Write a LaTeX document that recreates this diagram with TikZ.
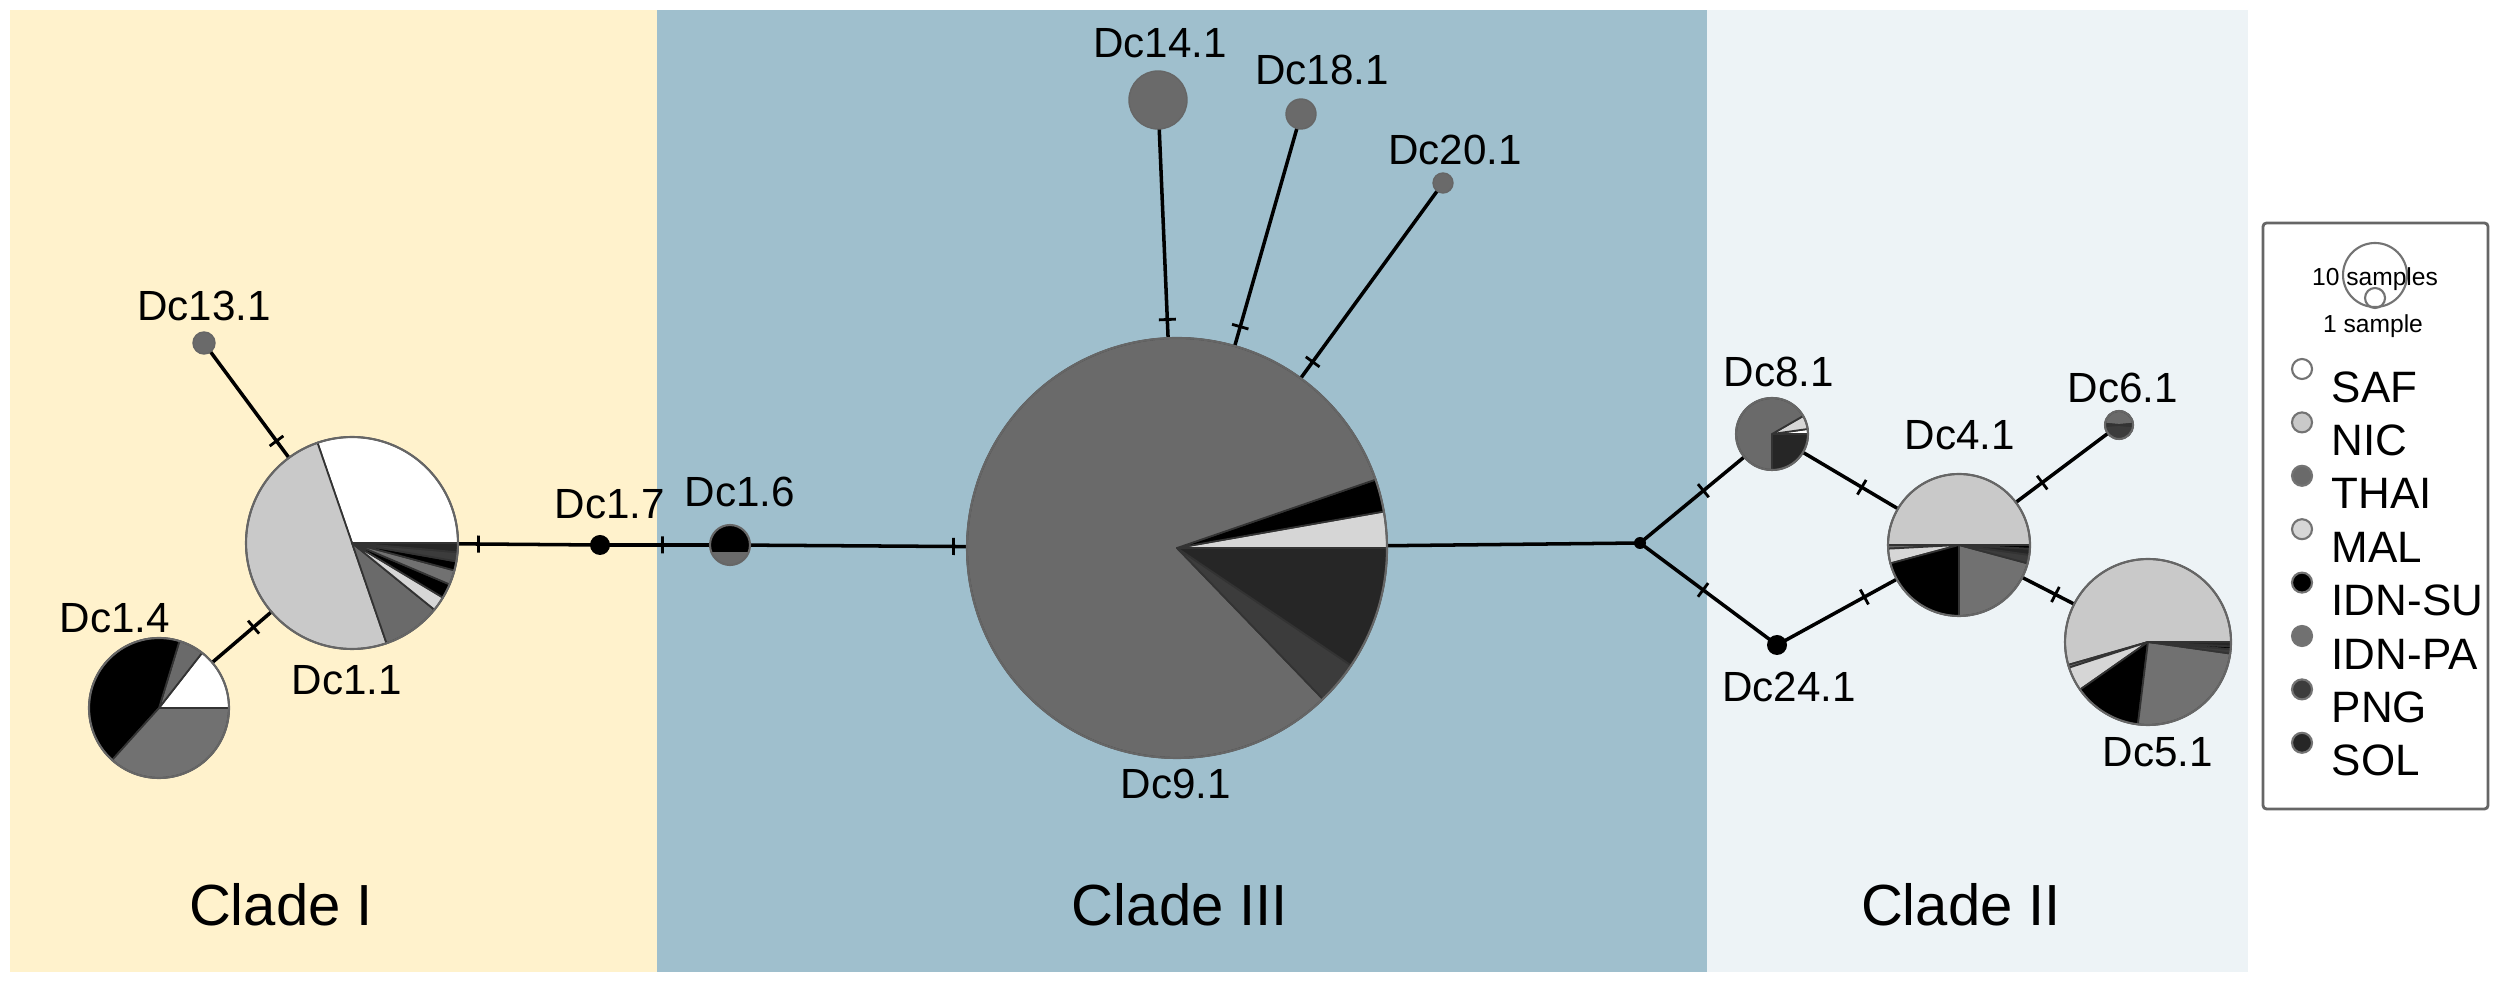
\documentclass[tikz,border=0pt]{standalone}
\usepackage{fontspec}
\setmainfont{Liberation Sans}
\definecolor{cyel}{HTML}{FFF2CC}
\definecolor{cblu}{HTML}{9FBFCD}
\definecolor{clig}{HTML}{EDF3F6}
\definecolor{NIC}{HTML}{C9C9C9}
\definecolor{MAL}{HTML}{D6D6D6}
\definecolor{THAI}{HTML}{6A6A6A}
\definecolor{IDNPA}{HTML}{717171}
\definecolor{PNG}{HTML}{3C3C3C}
\definecolor{SOL}{HTML}{262626}
\newcommand\myslice[5]{\filldraw[fill=#5,draw=black!80,line width=0.5pt,line join=round] (#1) -- ++(#2:#4) arc[start angle=#2,end angle=#3,radius=#4] -- cycle;}
\newcommand\myrim[2]{\draw[black!60,line width=0.6pt] (#1) circle[radius=#2];}
\begin{document}
\begin{tikzpicture}[x=0.01cm,y=0.01cm,
  lab/.style={font=\fontsize{12}{14}\selectfont,inner sep=0},
  clade/.style={font=\fontsize{16.5}{19}\selectfont,inner sep=0},
  leg/.style={font=\fontsize{12.5}{15}\selectfont,inner sep=0,anchor=west},
  conn/.style={line width=1pt},
  tk/.style={sloped,draw,inner sep=0,minimum width=0,minimum height=0.17cm,line width=0.8pt}]
\useasboundingbox (0,0) rectangle (2500,-983);
\fill[white] (0,0) rectangle (2500,-983);
\fill[cyel] (10,-10) rectangle (657,-972);
\fill[cblu] (657,-10) rectangle (1707,-972);
\fill[clig] (1707,-10) rectangle (2248,-972);
% centres
\coordinate (c131) at (204,-343);
\coordinate (c11) at (352,-543);
\coordinate (c14) at (159,-708);
\coordinate (c17) at (600,-545);
\coordinate (c16) at (730,-545);
\coordinate (c91) at (1177,-548);
\coordinate (c141) at (1158,-100);
\coordinate (c181) at (1301,-114);
\coordinate (c201) at (1443,-183);
\coordinate (cj) at (1640,-543);
\coordinate (c81) at (1772,-434);
\coordinate (c241) at (1777,-645);
\coordinate (c41) at (1959,-545);
\coordinate (c61) at (2119,-425);
\coordinate (c51) at (2148,-642);
% connectors
\draw[conn] (c131) -- node[tk,pos=0.49]{} (c11);
\draw[conn] (c14) -- node[tk,pos=0.49]{} (c11);
\draw[conn] (c11) -- node[tk,pos=0.51]{} (c17);
\draw[conn] (c17) -- node[tk,pos=0.48]{} (c16);
\draw[conn] (c16) -- node[tk,pos=0.50]{} (c91);
\draw[conn] (c91) -- node[tk,pos=0.45]{} (cj);
\draw[conn] (c141) -- node[tk,pos=0.49]{} (c91);
\draw[conn] (c181) -- node[tk,pos=0.49]{} (c91);
\draw[conn] (c201) -- node[tk,pos=0.49]{} (c91);
\draw[conn] (cj) -- node[tk,pos=0.48]{} (c81);
\draw[conn] (cj) -- node[tk,pos=0.46]{} (c241);
\draw[conn] (c81) -- node[tk,pos=0.48]{} (c41);
\draw[conn] (c241) -- node[tk,pos=0.48]{} (c41);
\draw[conn] (c41) -- node[tk,pos=0.52]{} (c61);
\draw[conn] (c41) -- node[tk,pos=0.51]{} (c51);
% Dc1.1
\myslice{c11}{0}{109}{106}{white}
\myslice{c11}{109}{289}{106}{NIC}
\myslice{c11}{289}{321}{106}{THAI}
\myslice{c11}{321}{329}{106}{MAL}
\myslice{c11}{329}{337}{106}{black}
\myslice{c11}{337}{345}{106}{IDNPA}
\myslice{c11}{345}{350}{106}{black}
\myslice{c11}{350}{355}{106}{PNG}
\myslice{c11}{355}{360}{106}{SOL}
\myrim{c11}{106}
% Dc1.4
\myslice{c14}{0}{52}{70}{white}
\myslice{c14}{52}{73}{70}{THAI}
\myslice{c14}{73}{228}{70}{black}
\myslice{c14}{228}{360}{70}{IDNPA}
\myrim{c14}{70}
% Dc13.1
\filldraw[fill=THAI,draw=black!60] (c131) circle[radius=11];
% Dc1.7
\fill[black] (c17) circle[radius=10];
% Dc1.6
\fill[THAI] (c16) circle[radius=20];
\fill[black] (c16) ++(-20:20) arc[start angle=-20,end angle=200,radius=20] -- cycle;
\myrim{c16}{20}
% Dc9.1
\myslice{c91}{0}{10}{210}{MAL}
\myslice{c91}{10}{19}{210}{black}
\myslice{c91}{19}{314}{210}{THAI}
\myslice{c91}{314}{326}{210}{PNG}
\myslice{c91}{326}{360}{210}{SOL}
\myrim{c91}{210}
% satellites
\filldraw[fill=THAI,draw=black!60] (c141) circle[radius=29];
\filldraw[fill=THAI,draw=black!60] (c181) circle[radius=15];
\filldraw[fill=THAI,draw=black!60] (c201) circle[radius=10];
% junction
\fill[black] (cj) circle[radius=6];
% Dc8.1
\myslice{c81}{0}{8}{36}{white}
\myslice{c81}{8}{30}{36}{MAL}
\myslice{c81}{30}{270}{36}{THAI}
\myslice{c81}{270}{360}{36}{SOL}
\myrim{c81}{36}
% Dc24.1
\fill[black] (c241) circle[radius=10];
% Dc4.1
\myslice{c41}{0}{180}{71}{NIC}
\myslice{c41}{180}{183}{71}{THAI}
\myslice{c41}{183}{195}{71}{MAL}
\myslice{c41}{195}{270}{71}{black}
\myslice{c41}{270}{345}{71}{IDNPA}
\myslice{c41}{345}{352}{71}{PNG}
\myslice{c41}{352}{357}{71}{SOL}
\myslice{c41}{357}{360}{71}{black}
\myrim{c41}{71}
% Dc6.1
\myslice{c61}{5}{175}{14}{THAI}
\myslice{c61}{175}{185}{14}{black}
\myslice{c61}{185}{355}{14}{PNG}
\myslice{c61}{355}{365}{14}{black}
\myrim{c61}{14}
% Dc5.1
\myslice{c51}{0}{196}{83}{NIC}
\myslice{c51}{196}{198}{83}{THAI}
\myslice{c51}{198}{215}{83}{MAL}
\myslice{c51}{215}{263}{83}{black}
\myslice{c51}{263}{352}{83}{IDNPA}
\myslice{c51}{352}{355}{83}{PNG}
\myslice{c51}{355}{357}{83}{black}
\myslice{c51}{357}{360}{83}{SOL}
\myrim{c51}{83}
% labels
\node[lab] (l131) at (204,-306) {Dc13.1};
\node[lab] (l11) at (347,-680) {Dc1.1};
\node[lab] (l14) at (115,-618) {Dc1.4};
\node[lab] (l17) at (610,-504) {Dc1.7};
\node[lab] (l16) at (740,-492) {Dc1.6};
\node[lab] (l91) at (1176,-784) {Dc9.1};
\node[lab] (l141) at (1160,-43) {Dc14.1};
\node[lab] (l181) at (1322,-70) {Dc18.1};
\node[lab] (l201) at (1455,-150) {Dc20.1};
\node[lab] (l81) at (1779,-372) {Dc8.1};
\node[lab] (l241) at (1789,-687) {Dc24.1};
\node[lab] (l41) at (1960,-435) {Dc4.1};
\node[lab] (l61) at (2123,-388) {Dc6.1};
\node[lab] (l51) at (2158,-752) {Dc5.1};
\node[clade] (k1) at (281,-905) {Clade I};
\node[clade] (k3) at (1180,-905) {Clade III};
\node[clade] (k2) at (1961,-905) {Clade II};
% legend
\draw[black!60,line width=0.8pt,rounded corners=1pt,fill=white] (2263,-223) rectangle (2488,-809);
\draw[black!55,line width=0.6pt] (2375,-275) circle[radius=32];
\draw[black!55,line width=0.6pt] (2375,-298) circle[radius=10];
\node[inner sep=0,font=\fontsize{7}{8}\selectfont] (ls10) at (2375,-279) {10 samples};
\node[inner sep=0,font=\fontsize{7}{8}\selectfont] (ls1) at (2373,-326) {1 sample};
\foreach \n/\c/\t [count=\i from 0] in {saf/white/SAF,nic/NIC/NIC,thai/THAI/THAI,mal/MAL/MAL,su/black/IDN-SU,pa/IDNPA/IDN-PA,png/PNG/PNG,sol/SOL/SOL}{
  \filldraw[fill=\c,draw=black!55,line width=0.6pt] (2302,-369-53.4*\i) circle[radius=10];
  \node[leg] (leg\n) at (2331,-387-53.4*\i) {\t};
}
\end{tikzpicture}
\end{document}
